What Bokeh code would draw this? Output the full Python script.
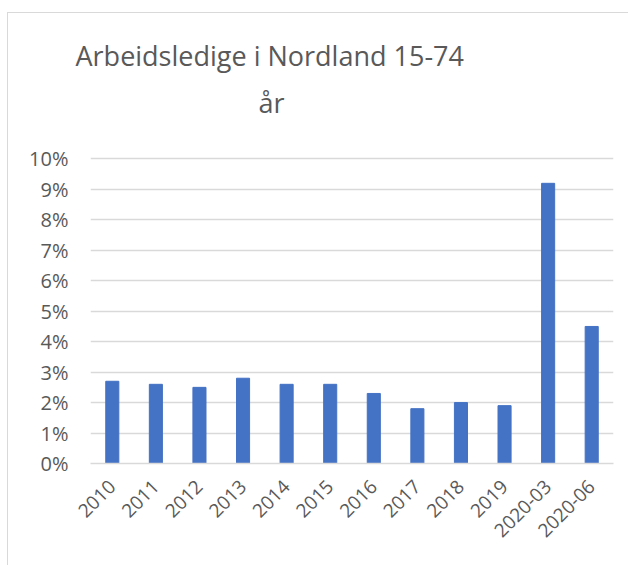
from bokeh.plotting import figure
from bokeh.models import FactorRange, Range1d, NumeralTickFormatter, FixedTicker, Title
from bokeh.embed import file_html
from bokeh.resources import INLINE
import math

categories = ["2010", "2011", "2012", "2013", "2014", "2015", "2016", "2017",
              "2018", "2019", "2020-03", "2020-06"]
values = [0.027, 0.026, 0.025, 0.028, 0.026, 0.026, 0.023, 0.018, 0.020, 0.019, 0.092, 0.045]
y_ticks = [0.0, 0.01, 0.02, 0.03, 0.04, 0.05, 0.06, 0.07, 0.08, 0.09, 0.10]
title_lines = ["Arbeidsledige i Nordland 15-74", "år"]

FONT = "Open Sans"
TXT = "#595959"

W, H = 621, 553
p = figure(width=W, height=H, x_range=FactorRange(*categories, range_padding=0),
           y_range=Range1d(0, 0.11), output_backend="svg", toolbar_location=None,
           title=None,
           min_border_left=82, min_border_right=16, min_border_top=115, min_border_bottom=103)
p.styles = {"border-left": "1px solid #d9d9d9", "border-top": "1px solid #d9d9d9",
            "margin-left": "7px", "margin-top": "12px"}
p.outline_line_color = None

p.vbar(x=categories, top=values, width=0.3, color="#4472C4")

p.yaxis.ticker = FixedTicker(ticks=y_ticks)
p.yaxis.formatter = NumeralTickFormatter(format="0%")
p.yaxis.axis_line_color = None
p.yaxis.major_tick_line_color = None
p.yaxis.minor_tick_line_color = None
p.yaxis.major_tick_out = 0
p.yaxis.major_label_standoff = 22
p.yaxis.major_label_text_font = FONT
p.yaxis.major_label_text_font_size = "20px"
p.yaxis.major_label_text_color = TXT

p.xaxis.axis_line_color = "#d9d9d9"
p.xaxis.axis_line_width = 1.5
p.xaxis.major_tick_line_color = None
p.xaxis.minor_tick_line_color = None
p.xaxis.major_tick_out = 0
p.xaxis.major_label_orientation = math.pi / 4
p.xaxis.major_label_standoff = 20
p.xaxis.major_label_text_font = FONT
p.xaxis.major_label_text_font_size = "19px"
p.xaxis.major_label_text_color = TXT

p.xgrid.grid_line_color = None
p.ygrid.grid_line_color = "#d9d9d9"
p.ygrid.grid_line_width = 1.5

# second line first (closest to the plot), then first line above it
p.add_layout(Title(text=title_lines[1], align="left", offset=168, standoff=16,
                   text_font=FONT, text_font_size="27px", text_color=TXT,
                   text_font_style="normal"), "above")
p.add_layout(Title(text=title_lines[0], align="left", offset=-15, standoff=0,
                   text_font=FONT, text_font_size="27px", text_color=TXT,
                   text_font_style="normal"), "above")

open("out.html", "w").write(file_html(p, INLINE))
